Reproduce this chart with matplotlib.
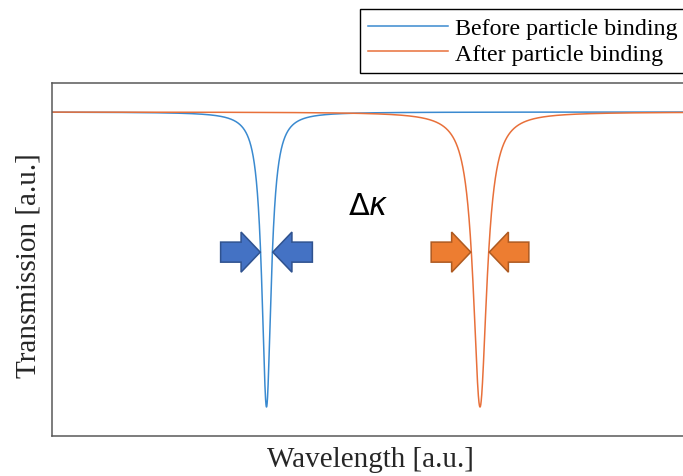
import numpy as np
import matplotlib.pyplot as plt
from matplotlib.patches import FancyArrow

plt.rcParams['font.family'] = ['Liberation Serif', 'DejaVu Serif']
plt.rcParams['mathtext.fontset'] = 'dejavusans'

# resonance dips, wavelength in a.u. (0..100 across the axes)
labels = ['Before particle binding', 'After particle binding']
centers = [32.5, 64.85]
fwhm = [1.7, 2.5]
depths = [1.0, 1.0]
line_colors = ['#3a8ad0', '#e8703a']
arrow_fill = ['#4472c4', '#ed7d31']
arrow_edge = ['#2f528f', '#ae5a21']

wl = np.linspace(0, 100, 20001)

fig = plt.figure(figsize=(6.83, 4.77), dpi=100)
ax = fig.add_axes([52 / 683, 40 / 477, 660 / 683, 353 / 477])

for c, g, d, col, lab in zip(centers, fwhm, depths, line_colors, labels):
    half = g / 2
    trans = 1 - d * half**2 / ((wl - c)**2 + half**2)
    ax.plot(wl, trans, color=col, lw=1.1, label=lab)

# arrows squeezing each dip
arrow_y = 0.525
arrow_len = 6.0
for c, g, fc, ec in zip(centers, fwhm, arrow_fill, arrow_edge):
    gap = 0.56 * g
    for side in (-1, 1):
        tip = c + side * gap
        tail = tip + side * arrow_len
        ax.add_patch(FancyArrow(tail, arrow_y, tip - tail, 0, width=0.068,
                                head_width=0.136, head_length=2.9,
                                length_includes_head=True, fc=fc, ec=ec,
                                lw=1.1, zorder=3))

ax.text(47.9, 0.678, r'$\Delta\kappa$', fontsize=22, ha='center', va='center')

ax.set_xlim(0, 100)
ax.set_ylim(-0.0983, 1.0983)
ax.set_xticks([])
ax.set_yticks([])
for s in ['left', 'bottom', 'top']:
    ax.spines[s].set_color('#595959')
    ax.spines[s].set_linewidth(1.1)
ax.spines['right'].set_visible(False)

fig.text(370 / 683, 1 - 460 / 477, 'Wavelength [a.u.]', fontsize=21,
         ha='center', va='center', color='#262626')
fig.text(29 / 683, 1 - 266 / 477, 'Transmission [a.u.]', fontsize=21,
         ha='center', va='center', rotation=90, color='#262626')

leg = fig.legend(loc='upper left', bbox_to_anchor=(360 / 683, 1 - 10 / 477),
                 borderaxespad=0, fontsize=17.3, frameon=True, fancybox=False,
                 framealpha=1, edgecolor='black', borderpad=0.35,
                 handlelength=3.3, handletextpad=0.32, labelspacing=0.15)
leg.get_frame().set_linewidth(1.0)

fig.savefig('out.png', dpi=100)
